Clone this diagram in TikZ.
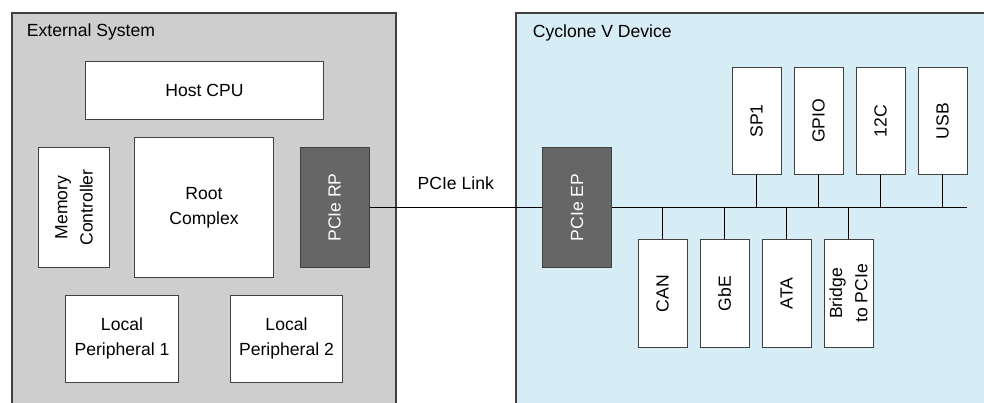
\documentclass[tikz,border=0pt]{standalone}
\usepackage{fontspec}
\setmainfont{Liberation Sans}
\usetikzlibrary{positioning}
\definecolor{sysgray}{HTML}{CFCECE}
\definecolor{devblue}{HTML}{D6EDF5}
\definecolor{coregray}{HTML}{666666}
\definecolor{edgegray}{HTML}{404040}

\begin{document}
\begin{tikzpicture}[x=0.025cm, y=-0.025cm,
  font=\fontsize{12.5}{18}\selectfont,
  blk/.style={draw=edgegray, fill=white, line width=0.7pt, inner sep=0pt, align=center},
  core/.style={blk, fill=coregray, text=white, rotate=90, minimum width=2.975cm, minimum height=1.725cm},
  upper/.style={blk, rotate=90, minimum width=2.65cm, minimum height=1.225cm},
  lower/.style={blk, rotate=90, minimum width=2.675cm, minimum height=1.225cm}]
  \useasboundingbox (0,0) rectangle (984,402);

  % the two sides
  \draw[edgegray, fill=sysgray, line width=0.9pt] (12,13) rectangle (396,430);
  \draw[edgegray, fill=devblue, line width=0.9pt] (516,13) rectangle (1000,430);
  \node[anchor=west] (exttitle) at (22,32) {External System};
  \node[anchor=west] (devtitle) at (528,33) {Cyclone V Device};

  % external system
  \node[blk, minimum width=5.925cm, minimum height=1.45cm] (cpu) at (204.5,90) {Host CPU};
  \node[blk, rotate=90, minimum width=2.975cm, minimum height=1.75cm] (memctl) at (74,207.5) {Memory\\Controller};
  \node[blk, minimum width=3.45cm, minimum height=3.475cm] (root) at (204,207.5) {Root\\Complex};
  \node[core] (rp) at (334.5,207.5) {PCIe RP};
  \node[blk, minimum width=2.8cm, minimum height=2.175cm] (lp1) at (122,338.5) {Local\\Peripheral 1};
  \node[blk, minimum width=2.775cm, minimum height=2.175cm] (lp2) at (286.5,338.5) {Local\\Peripheral 2};

  % device (rotated boxes: south is the right side, west the bottom)
  \node[core] (ep) at (577,207.5) {PCIe EP};
  \coordinate (busend) at (967,207.5);
  \draw[line width=0.7pt] (rp.south) -- node[above=9pt] (link) {PCIe Link} (ep.north);
  \draw[line width=0.7pt] (ep.south) -- (busend);

  \node[upper] (spi) at (756.5,121) {SP1};
  \node[upper] (gpio) at (818.5,121) {GPIO};
  \node[upper] (itc) at (880.5,121) {12C};
  \node[upper] (usb) at (942.5,121) {USB};
  \node[lower] (can) at (662.5,293.5) {CAN};
  \node[lower] (gbe) at (724.5,293.5) {GbE};
  \node[lower] (ata) at (786.5,293.5) {ATA};
  \node[lower] (bridge) at (848.5,293.5) {Bridge\\to PCIe};

  \foreach \p in {spi,gpio,itc,usb}
    \draw[line width=0.7pt] (\p.west) -- (\p.west |- busend);
  \foreach \p in {can,gbe,ata,bridge}
    \draw[line width=0.7pt] (\p.east) -- (\p.east |- busend);
\end{tikzpicture}
\end{document}
